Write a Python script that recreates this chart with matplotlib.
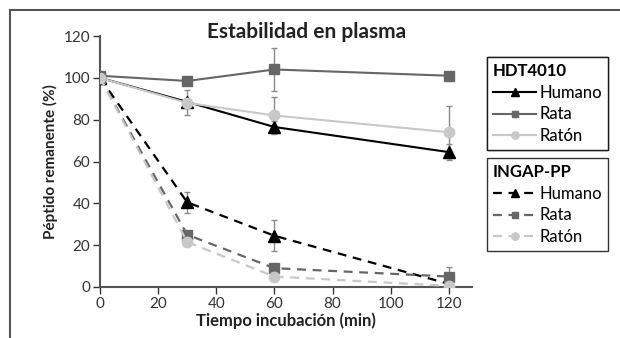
import matplotlib.pyplot as plt
from matplotlib.lines import Line2D

plt.rcParams['font.family'] = ['Lato', 'DejaVu Sans']

tiempo = [0, 30, 60, 120]

# HDT4010
hdt_humano = [100, 88.5, 76.5, 64.5]
hdt_humano_err = [0, 2, 3, 4]
hdt_rata = [101, 98.5, 104, 101]
hdt_rata_err = [0, 0, 10.5, 0]
hdt_raton = [100, 88, 82, 74]
hdt_raton_err = [0, 6, 9, 12.5]

# INGAP-PP
ing_humano = [100, 40.5, 24.5, 1.5]
ing_humano_err = [0, 5, 7.5, 0]
ing_rata = [100, 25, 9, 5]
ing_rata_err = [0, 0, 0, 4.5]
ing_raton = [100, 21.5, 5, 0.5]
ing_raton_err = [0, 0, 0, 0]

series = ["Humano", "Rata", "Ratón"]
colors = ["black", "#666666", "#c8c8c8"]
markers = ["^", "s", "o"]
msizes = [9, 7, 7.5]

fig = plt.figure(figsize=(6.2, 3.38), dpi=100)
ax = fig.add_axes([100/620, 1 - 287/338, 372/620, (287 - 36)/338])

hdt = [(hdt_humano, hdt_humano_err), (hdt_rata, hdt_rata_err), (hdt_raton, hdt_raton_err)]
ing = [(ing_humano, ing_humano_err), (ing_rata, ing_rata_err), (ing_raton, ing_raton_err)]

h1 = []
for (vals, err), c, m, ms, name in zip(hdt, colors, markers, msizes, series):
    ax.errorbar(tiempo, vals, yerr=err, fmt="none", ecolor="#8a8a8a", elinewidth=1, capsize=2.5, zorder=2)
    ln, = ax.plot(tiempo, vals, color=c, lw=1.5, marker=m, ms=ms, zorder=3, label=name)
    h1.append(ln)

h2 = []
for (vals, err), c, m, ms, name in zip(ing, colors, markers, msizes, series):
    ax.errorbar(tiempo, vals, yerr=err, fmt="none", ecolor="#8a8a8a", elinewidth=1, capsize=2.5, zorder=2)
    ln, = ax.plot(tiempo, vals, color=c, lw=1.6, ls=(0, (4, 3)), marker=m, ms=ms, zorder=3, label=name)
    h2.append(ln)

ax.set_xlim(0, 128)
ax.set_ylim(0, 120)
ax.set_xticks([0, 20, 40, 60, 80, 100, 120])
ax.set_yticks([0, 20, 40, 60, 80, 100, 120])
ax.tick_params(labelsize=11, colors="#333333", length=5, width=1, labelcolor="#333333", pad=2)
for s in ["top", "right"]:
    ax.spines[s].set_visible(False)
for s in ["left", "bottom"]:
    ax.spines[s].set_color("#555555")
    ax.spines[s].set_linewidth(1.5)

ax.set_xlabel("Tiempo incubación (min)", fontsize=12, fontweight="bold", color="#222222", labelpad=1)
ax.set_ylabel("Péptido remanente (%)", fontsize=11, fontweight="bold", color="#222222", labelpad=4)
fig.text(307/620, 1 - 32/338, "Estabilidad en plasma", fontsize=15, fontweight="bold",
         color="#222222", ha="center", va="center")

legend_kw = dict(loc="upper left", fontsize=12, title_fontsize=12, frameon=True, fancybox=False,
                 edgecolor="black", handlelength=2.6, handletextpad=0.2, borderpad=0.35,
                 labelspacing=0.35, alignment="left", markerscale=0.7, borderaxespad=0)

leg1 = fig.legend(handles=h1, title="HDT4010", bbox_to_anchor=(487/620, 1 - 57/338), **legend_kw)
leg1.get_title().set_fontweight("bold")
leg1.get_frame().set_linewidth(1)
fig.add_artist(leg1)

leg2 = fig.legend(handles=h2, title="INGAP-PP", bbox_to_anchor=(487/620, 1 - 158/338), **legend_kw)
leg2.get_title().set_fontweight("bold")
leg2.get_frame().set_linewidth(1)

# outer frame (left and top edges)
fig.add_artist(Line2D([10/620, 10/620], [0, 1 - 10/338], transform=fig.transFigure, color="#555555", lw=1.5))
fig.add_artist(Line2D([10/620, 1], [1 - 10/338, 1 - 10/338], transform=fig.transFigure, color="#555555", lw=1.5))

fig.savefig("out.png", dpi=100)
